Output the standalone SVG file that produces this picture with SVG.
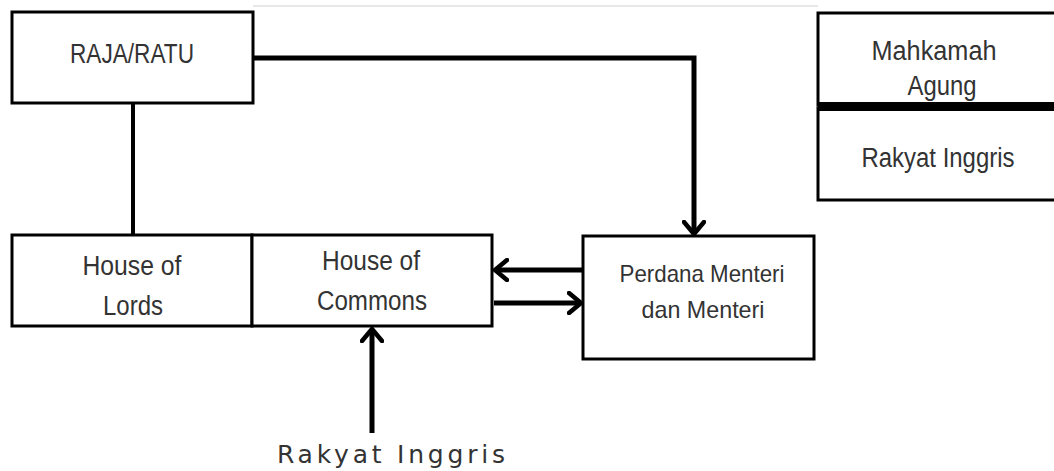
<svg xmlns="http://www.w3.org/2000/svg" width="1054" height="471" viewBox="0 0 1054 471">
<style>
.box{fill:#fff;stroke:#000;stroke-width:3}
.t{font-family:"Liberation Sans",Arial,sans-serif;font-size:27px;fill:#333;text-anchor:middle}
.s{font-size:24px}
.c{fill:none;stroke:#000;stroke-width:5}
</style>
<defs>
<marker id="ah" viewBox="0 0 16 24" refX="14" refY="12" markerWidth="16" markerHeight="24" markerUnits="userSpaceOnUse" orient="auto">
<path d="M2,2 L14,12 L2,22" fill="none" stroke="#000" stroke-width="4.5" stroke-linecap="round" stroke-linejoin="round"/>
</marker>
</defs>
<rect width="1054" height="471" fill="#fff"/>
<line x1="253" y1="6" x2="818" y2="6" stroke="#e8e8e8" stroke-width="2"/>
<g id="connectors">
<path class="c" d="M253,58 H694 V234" marker-end="url(#ah)"/>
<path class="c" d="M133,103 V235" style="stroke-width:4"/>
<path class="c" d="M583,270 H495" marker-end="url(#ah)"/>
<path class="c" d="M494,303 H581" marker-end="url(#ah)"/>
<path class="c" d="M372,433 V329" marker-end="url(#ah)"/>
</g>
<g id="raja">
<rect class="box" x="12" y="12" width="241" height="91"/>
<text class="t" x="132" y="63" textLength="124" lengthAdjust="spacingAndGlyphs">RAJA/RATU</text>
</g>
<g id="lords">
<rect class="box" x="12" y="235" width="240" height="91"/>
<text class="t" x="132" y="275" textLength="99" lengthAdjust="spacingAndGlyphs">House of</text>
<text class="t" x="133" y="315" textLength="60" lengthAdjust="spacingAndGlyphs">Lords</text>
</g>
<g id="commons">
<rect class="box" x="252" y="235" width="240" height="91"/>
<text class="t" x="371" y="270" textLength="98" lengthAdjust="spacingAndGlyphs">House of</text>
<text class="t" x="372" y="310" textLength="110" lengthAdjust="spacingAndGlyphs">Commons</text>
</g>
<g id="perdana">
<rect class="box" x="583" y="236" width="231" height="123"/>
<text class="t s" x="702" y="282" textLength="165" lengthAdjust="spacingAndGlyphs">Perdana Menteri</text>
<text class="t s" x="703" y="318" textLength="123" lengthAdjust="spacingAndGlyphs">dan Menteri</text>
</g>
<g id="mahkamah">
<rect class="box" x="818" y="13" width="250" height="92"/>
<text class="t" x="934" y="60" textLength="125" lengthAdjust="spacingAndGlyphs">Mahkamah</text>
<text class="t" x="942" y="95" textLength="69" lengthAdjust="spacingAndGlyphs">Agung</text>
</g>
<g id="rakyat-right">
<rect class="box" x="818" y="108" width="250" height="92"/>
<rect x="818" y="102" width="250" height="9" fill="#000"/>
<text class="t" x="938" y="167" textLength="153" lengthAdjust="spacingAndGlyphs">Rakyat Inggris</text>
</g>
<g id="rakyat-bottom">
<text x="391" y="463" textLength="228" lengthAdjust="spacing" style="font-family:'DejaVu Sans',Verdana,sans-serif;font-size:25px;fill:#333;text-anchor:middle">Rakyat Inggris</text>
</g>
</svg>
